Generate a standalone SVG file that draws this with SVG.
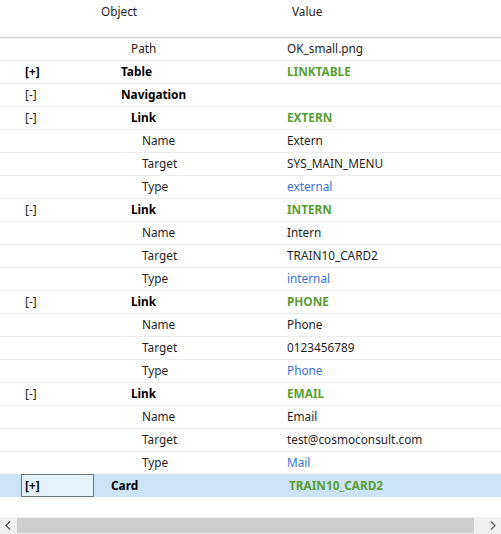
<svg xmlns="http://www.w3.org/2000/svg" width="501" height="534" viewBox="0 0 501 534">
<style>
text{font-family:"Noto Sans","Open Sans","Liberation Sans",sans-serif;font-size:11.8px;fill:#1e1e1e}
.b{font-weight:bold;fill:#000}
.g{font-weight:bold;fill:#5a9e32}
.u{fill:#3a6fd8}
.sep{stroke:#ececec;stroke-width:1}
.hd{stroke:#d6d6d6;stroke-width:1.5}
</style>
<rect width="501" height="534" fill="#ffffff"/>
<g id="header">
<text x="101" y="16">Object</text>
<text x="292" y="16">Value</text>
<line class="hd" x1="0" y1="37.5" x2="501" y2="37.5"/>
</g>
<g id="selection">
<rect x="0" y="474" width="501" height="23" fill="#cce4f7"/>
<rect x="21.5" y="474.5" width="72" height="22" fill="#e5f1fb" stroke="#000" stroke-width="1" stroke-dasharray="1,1"/>
</g>
<g id="connectors">
<line class="sep" x1="0" y1="60.5" x2="501" y2="60.5"/>
<line class="sep" x1="0" y1="83.5" x2="501" y2="83.5"/>
<line class="sep" x1="0" y1="106.5" x2="501" y2="106.5"/>
<line class="sep" x1="0" y1="129.5" x2="501" y2="129.5"/>
<line class="sep" x1="0" y1="152.5" x2="501" y2="152.5"/>
<line class="sep" x1="0" y1="175.5" x2="501" y2="175.5"/>
<line class="sep" x1="0" y1="198.5" x2="501" y2="198.5"/>
<line class="sep" x1="0" y1="221.5" x2="501" y2="221.5"/>
<line class="sep" x1="0" y1="244.5" x2="501" y2="244.5"/>
<line class="sep" x1="0" y1="267.5" x2="501" y2="267.5"/>
<line class="sep" x1="0" y1="290.5" x2="501" y2="290.5"/>
<line class="sep" x1="0" y1="313.5" x2="501" y2="313.5"/>
<line class="sep" x1="0" y1="336.5" x2="501" y2="336.5"/>
<line class="sep" x1="0" y1="359.5" x2="501" y2="359.5"/>
<line class="sep" x1="0" y1="382.5" x2="501" y2="382.5"/>
<line class="sep" x1="0" y1="405.5" x2="501" y2="405.5"/>
<line class="sep" x1="0" y1="428.5" x2="501" y2="428.5"/>
<line class="sep" x1="0" y1="451.5" x2="501" y2="451.5"/>
</g>
<g id="row-path"><text x="131" y="53">Path</text><text x="287" y="53">OK_small.png</text></g>
<g id="row-table"><text class="b" x="25" y="76">[+]</text><text class="b" x="121" y="76">Table</text><text class="g" x="287" y="76">LINKTABLE</text></g>
<g id="row-navigation"><text x="25" y="99">[-]</text><text class="b" x="121" y="99">Navigation</text></g>
<g id="row-link1"><text x="25" y="122">[-]</text><text class="b" x="131" y="122">Link</text><text class="g" x="287" y="122">EXTERN</text></g>
<g id="row-name1"><text x="142" y="145">Name</text><text x="287" y="145">Extern</text></g>
<g id="row-target1"><text x="142" y="168">Target</text><text x="287" y="168">SYS_MAIN_MENU</text></g>
<g id="row-type1"><text x="142" y="191">Type</text><text class="u" x="287" y="191">external</text></g>
<g id="row-link2"><text x="25" y="214">[-]</text><text class="b" x="131" y="214">Link</text><text class="g" x="287" y="214">INTERN</text></g>
<g id="row-name2"><text x="142" y="237">Name</text><text x="287" y="237">Intern</text></g>
<g id="row-target2"><text x="142" y="260">Target</text><text x="287" y="260">TRAIN10_CARD2</text></g>
<g id="row-type2"><text x="142" y="283">Type</text><text class="u" x="287" y="283">internal</text></g>
<g id="row-link3"><text x="25" y="306">[-]</text><text class="b" x="131" y="306">Link</text><text class="g" x="287" y="306">PHONE</text></g>
<g id="row-name3"><text x="142" y="329">Name</text><text x="287" y="329">Phone</text></g>
<g id="row-target3"><text x="142" y="352">Target</text><text x="287" y="352">0123456789</text></g>
<g id="row-type3"><text x="142" y="375">Type</text><text class="u" x="287" y="375">Phone</text></g>
<g id="row-link4"><text x="25" y="398">[-]</text><text class="b" x="131" y="398">Link</text><text class="g" x="287" y="398">EMAIL</text></g>
<g id="row-name4"><text x="142" y="421">Name</text><text x="287" y="421">Email</text></g>
<g id="row-target4"><text x="142" y="444">Target</text><text x="287" y="444">test@cosmoconsult.com</text></g>
<g id="row-type4"><text x="142" y="467">Type</text><text class="u" x="287" y="467">Mail</text></g>
<g id="row-card"><text class="b" x="25" y="490">[+]</text><text class="b" x="111" y="490">Card</text><text class="g" x="289" y="490">TRAIN10_CARD2</text></g>
<g id="scrollbar">
<rect x="0" y="517" width="501" height="17" fill="#f0f0f0"/>
<rect x="17" y="518" width="457" height="15" fill="#cdcdcd"/>
<path d="M10 521.5 L6 525.5 L10 529.5" fill="none" stroke="#606060" stroke-width="1.3"/>
<path d="M491 521.5 L495 525.5 L491 529.5" fill="none" stroke="#606060" stroke-width="1.3"/>
</g>
</svg>
